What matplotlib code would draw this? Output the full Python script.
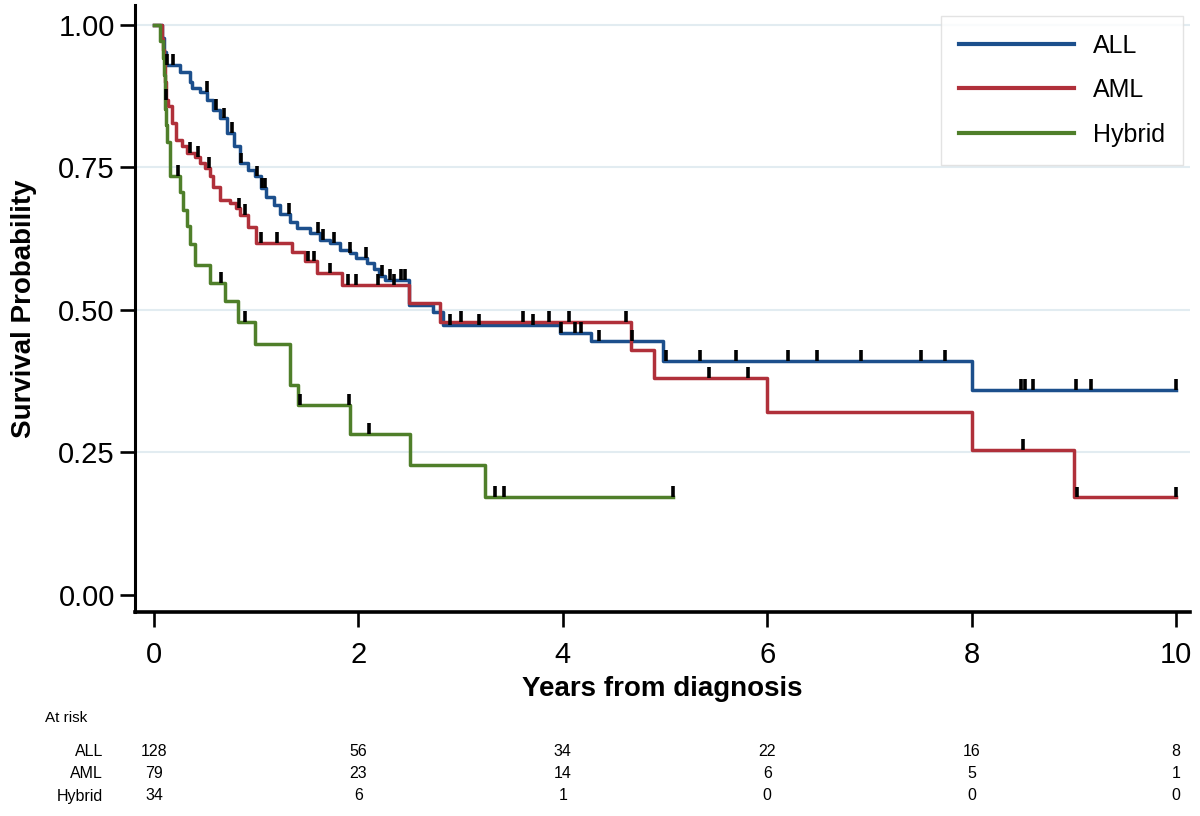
import matplotlib
matplotlib.use("Agg")
import matplotlib.pyplot as plt
import matplotlib.transforms as mtransforms
import numpy as np

plt.rcParams['font.family'] = ['Liberation Sans', 'DejaVu Sans']

# event times (years) and survival level after each step
all_t = [0.08, 0.10, 0.12, 0.25, 0.35, 0.37, 0.45, 0.52, 0.58, 0.65, 0.71, 0.78, 0.84, 0.92,
         0.99, 1.05, 1.10, 1.17, 1.23, 1.33, 1.40, 1.53, 1.62, 1.72, 1.82, 1.92, 1.98, 2.08,
         2.15, 2.20, 2.26, 2.49, 2.73, 2.83, 3.97, 4.28, 4.98, 8.0]
all_s = [0.977, 0.953, 0.930, 0.918, 0.900, 0.889, 0.883, 0.868, 0.851, 0.836, 0.810, 0.787,
         0.757, 0.745, 0.734, 0.713, 0.698, 0.684, 0.669, 0.655, 0.643, 0.635, 0.623, 0.617,
         0.605, 0.600, 0.591, 0.582, 0.571, 0.559, 0.553, 0.509, 0.497, 0.474, 0.459, 0.445,
         0.410, 0.360]
all_cens = [0.124, 0.19, 0.515, 0.61, 0.685, 0.763, 0.85, 1.01, 1.06, 1.09, 1.32, 1.60, 1.65,
            1.76, 1.92, 2.07, 2.23, 2.31, 2.42, 2.46, 2.90, 3.18, 3.71, 3.98, 4.12, 4.18, 4.35,
            4.68, 5.01, 5.34, 5.69, 6.2, 6.49, 6.92, 7.5, 7.74, 8.48, 8.52, 8.6, 9.02, 9.17, 10.0]
all_end = 10.0

aml_t = [0.08, 0.09, 0.10, 0.107, 0.112, 0.115, 0.14, 0.173, 0.22, 0.27, 0.32, 0.40, 0.45,
         0.50, 0.548, 0.58, 0.645, 0.74, 0.80, 0.84, 0.92, 1.00, 1.35, 1.48, 1.59, 1.84, 2.49,
         2.80, 4.67, 4.89, 6.0, 8.0, 9.0]
aml_s = [0.975, 0.956, 0.945, 0.933, 0.900, 0.869, 0.857, 0.827, 0.798, 0.787, 0.775, 0.769,
         0.757, 0.749, 0.734, 0.716, 0.693, 0.687, 0.678, 0.666, 0.646, 0.617, 0.602, 0.585,
         0.564, 0.544, 0.512, 0.479, 0.430, 0.380, 0.320, 0.255, 0.171]
aml_cens = [0.12, 0.35, 0.43, 0.54, 0.83, 0.89, 1.05, 1.2, 1.51, 1.57, 1.72, 1.9, 1.98, 2.19,
            2.35, 3.0, 3.61, 3.86, 4.06, 4.62, 5.43, 5.81, 8.5, 9.03, 10.0]
aml_end = 10.0

hyb_t = [0.06, 0.09, 0.10, 0.105, 0.11, 0.12, 0.13, 0.16, 0.25, 0.28, 0.32, 0.35, 0.40, 0.55,
         0.69, 0.82, 0.99, 1.33, 1.41, 1.92, 2.50, 3.24]
hyb_s = [0.971, 0.941, 0.912, 0.882, 0.853, 0.824, 0.794, 0.735, 0.706, 0.676, 0.647, 0.615,
         0.579, 0.547, 0.515, 0.479, 0.441, 0.368, 0.333, 0.283, 0.228, 0.172]
hyb_cens = [0.23, 0.66, 0.89, 1.43, 1.91, 2.1, 3.34, 3.42, 5.08]
hyb_end = 5.08

groups = ['ALL', 'AML', 'Hybrid']
colors = ['#1c4f8c', '#b0303a', '#4f7f2a']

risk_years = [0, 2, 4, 6, 8, 10]
risk_all = [128, 56, 34, 22, 16, 8]
risk_aml = [79, 23, 14, 6, 5, 1]
risk_hyb = [34, 6, 1, 0, 0, 0]

fig = plt.figure(figsize=(12, 8.16), dpi=100)
ax = fig.add_axes([0.1125, 0.25, 0.8795, 0.744])

for y in [0.25, 0.5, 0.75, 1.0]:
    ax.axhline(y, color='#e2ecf1', lw=1.5, zorder=0)

series = [(all_t, all_s, all_cens, all_end),
          (aml_t, aml_s, aml_cens, aml_end),
          (hyb_t, hyb_s, hyb_cens, hyb_end)]

for (t, s, cens, end), name, col in zip(series, groups, colors):
    tt = np.array([0.0] + t + [end])
    ss = np.array([1.0] + s + [s[-1]])
    ax.step(tt, ss, where='post', color=col, lw=2.5, label=name, zorder=2)
    # censor ticks at the curve level
    idx = np.searchsorted(tt, cens, side='right') - 1
    lev = ss[idx]
    ax.vlines(cens, lev, lev + 0.019, color='black', lw=2.6, zorder=3)

ax.set_xlim(-0.186, 10.14)
ax.set_ylim(-0.03, 1.035)
ax.set_xticks(risk_years)
ax.set_yticks([0, 0.25, 0.5, 0.75, 1.0])
ax.set_yticklabels(['0.00', '0.25', '0.50', '0.75', '1.00'])
ax.tick_params(axis='both', labelsize=21, width=1.9, length=11, color='black')
ax.tick_params(axis='x', pad=10)
for side in ['top', 'right']:
    ax.spines[side].set_visible(False)
ax.spines['left'].set_linewidth(2.2)
ax.spines['bottom'].set_linewidth(2.6)

ax.set_xlabel('Years from diagnosis', fontsize=20, fontweight='bold', labelpad=5)
ax.set_ylabel('Survival Probability', fontsize=20, fontweight='bold', labelpad=15)

leg = ax.legend(loc='upper right', bbox_to_anchor=(1.005, 1.003), fontsize=18,
                handlelength=4.6, handletextpad=0.75, labelspacing=0.82,
                borderpad=0.72, fancybox=False, frameon=True)
leg.get_frame().set_edgecolor('#dcdcdc')
leg.get_frame().set_linewidth(1.0)
for line in leg.get_lines():
    line.set_linewidth(3)

# number at risk table
trans = mtransforms.blended_transform_factory(ax.transData, fig.transFigure)
fig.text(45 / 1200, 1 - 718 / 816, 'At risk', fontsize=11, ha='left', va='center')
rows = [risk_all, risk_aml, risk_hyb]
row_y = [752, 774, 796]
for name, vals, py in zip(groups, rows, row_y):
    fig.text(103 / 1200, 1 - py / 816, name, fontsize=11.5, ha='right', va='center')
    for yr, v in zip(risk_years, vals):
        ax.text(yr, 1 - py / 816, str(v), transform=trans, fontsize=11.5,
                ha='center', va='center', clip_on=False)

fig.savefig('out.png', dpi=100)
